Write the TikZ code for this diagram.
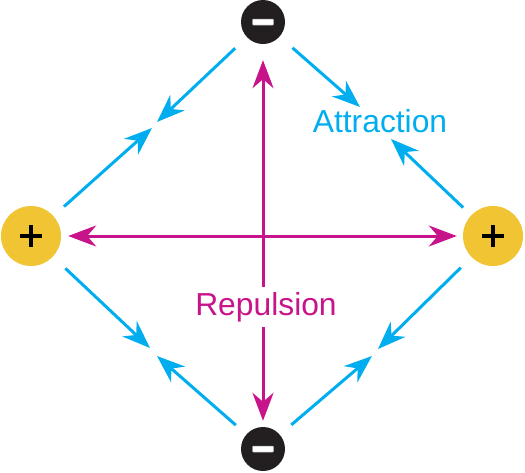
\documentclass[tikz,border=0pt]{standalone}
\usepackage{fontspec}
\setmainfont{Liberation Sans}
\usetikzlibrary{arrows.meta}
\definecolor{cblue}{RGB}{0,174,239}
\definecolor{cmag}{RGB}{200,20,138}
\definecolor{cyel}{RGB}{240,196,50}
\definecolor{cblk}{RGB}{35,31,32}
\begin{document}
\begin{tikzpicture}[x=1pt,y=-1pt,
  poscharge/.style={circle,fill=cyel,minimum size=60pt,inner sep=0pt},
  negcharge/.style={circle,fill=cblk,minimum size=44pt,inner sep=0pt},
  attr/.style={cblue,line width=3pt,-{Stealth[length=28pt,width=21pt,inset=9pt]}},
  rep/.style={cmag,line width=3pt,{Stealth[length=28pt,width=21pt,inset=9pt]}-{Stealth[length=28pt,width=21pt,inset=9pt]}},
  lbl/.style={font=\fontsize{31.8}{32}\selectfont,inner xsep=0pt,inner ysep=5pt,anchor=base}]
\useasboundingbox (0,0) rectangle (525,472);
% charges
\node[poscharge] (pl) at (31,236) {};
\node[poscharge] (pr) at (493,236) {};
\node[negcharge] (mt) at (263,22) {};
\node[negcharge] (mb) at (263,449) {};
% signs
\foreach \n in {pl,pr}{
  \draw[black,line width=3.2pt] (\n.center) ++(-11,0) -- ++(22,0);
  \draw[black,line width=3.2pt] (\n.center) ++(0,-11) -- ++(0,22);
}
\foreach \n in {mt,mb}{
  \draw[fill=white,draw=gray!70,line width=0.5pt,rounded corners=0.8pt] (\n.center) ++(-10.5,-3) rectangle ++(21,6);
}
% tip coordinates
\coordinate (a1) at (152,128);
\coordinate (a2) at (157,122);
\coordinate (a3) at (360,107);
\coordinate (a4) at (391,139);
\coordinate (a5) at (150,348);
\coordinate (a6) at (157,356);
\coordinate (a7) at (378,349);
\coordinate (a8) at (372,356);
% attraction arrows
\draw[attr,shorten <=14pt] (pl) -- (a1);
\draw[attr,shorten <=16pt] (mt) -- (a2);
\draw[attr,shorten <=17pt] (mt) -- (a3);
\draw[attr,shorten <=11pt] (pr) -- (a4);
\draw[attr,shorten <=17pt] (pl) -- (a5);
\draw[attr,shorten <=14pt] (mb) -- (a6);
\draw[attr,shorten <=15pt] (pr) -- (a7);
\draw[attr,shorten <=15pt] (mb) -- (a8);
% repulsion arrows
\draw[rep,shorten <=7pt,shorten >=6pt] (pl) -- (pr);
\draw[rep,shorten <=16pt,shorten >=6pt] (mt) -- (mb);
% labels
\node[lbl,cblue] (att) at (380,132) {Attraction};
\node[lbl,cmag,fill=white] (repl) at (266,315) {Repulsion};
\end{tikzpicture}
\end{document}
